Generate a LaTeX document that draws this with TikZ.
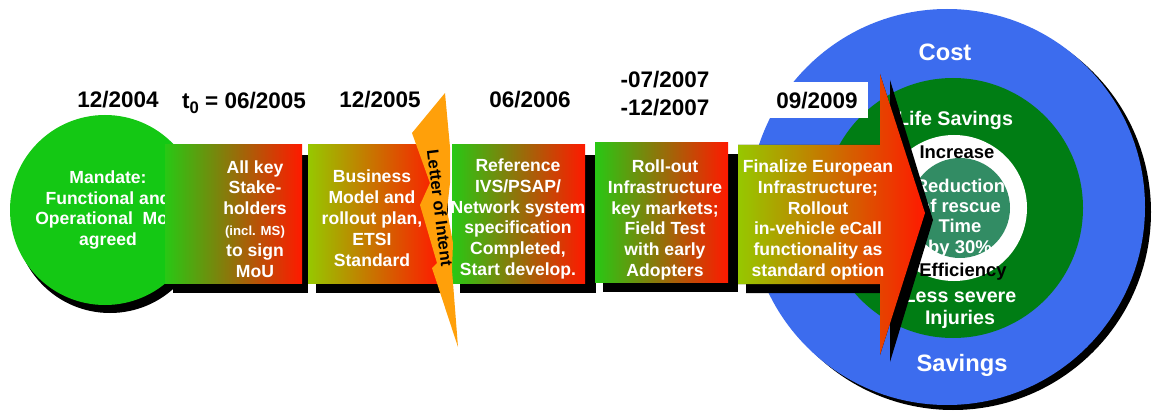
\documentclass[tikz,border=0pt]{standalone}
\usepackage{fontspec}
\setmainfont{Liberation Sans}
\usetikzlibrary{calc}

\definecolor{ringblue}{RGB}{60,108,238}
\definecolor{ringgreen}{RGB}{0,125,20}
\definecolor{coreteal}{RGB}{50,140,100}
\definecolor{mandgreen}{RGB}{20,200,20}
\definecolor{boxgreen}{RGB}{40,200,20}
\definecolor{boxlime}{RGB}{150,200,0}
\definecolor{boxred}{RGB}{255,25,0}
\definecolor{loiorange}{RGB}{255,160,10}

\tikzset{
	phase/.style={left color=boxgreen, right color=boxred},
	limephase/.style={left color=boxlime, right color=boxred},
	phasetext/.style={text=white, font=\bfseries\fontsize{10}{11.9}\selectfont, align=center},
	datelabel/.style={font=\bfseries\fontsize{12.8}{16}\selectfont, align=center},
	ringtext/.style={font=\bfseries\fontsize{10.5}{11.5}\selectfont, align=center},
}

\begin{document}
\begin{tikzpicture}[x=0.02cm, y=-0.02cm]
				\useasboundingbox (0,0) rectangle (1154,412);
				
				% target rings
				\coordinate (R) at (947,207);
				\fill[black] (953,212) circle[radius=198];
				\fill[ringblue] (R) circle[radius=198];
				\fill[ringgreen] (953,208) circle[radius=130];
				\fill[white] (954,208) circle[radius=73];
				\fill[coreteal] (960,208) circle[radius=50];
				\node[ringtext, text=white, font=\bfseries\fontsize{13.5}{15}\selectfont] (cost) at (945,52) {Cost};
				\node[ringtext, text=white, font=\bfseries\fontsize{13.5}{15}\selectfont] (savings) at (962,365) {Savings};
				\node[ringtext, text=white, font=\bfseries\fontsize{11.2}{12}\selectfont] (life) at (955,120) {Life Savings};
				\node[ringtext] (increase) at (957,152) {Increase};
				\node[ringtext, text=white] (reduction) at (960,218) {Reduction\\of rescue\\Time\\by 30\%};
				\node[ringtext] (efficiency) at (963,272) {Efficiency};
				\node[ringtext, text=white, font=\bfseries\fontsize{11.2}{12.5}\selectfont] (severe) at (960,309) {Less severe\\Injuries};
				
				% mandate circle
				\fill[black] (110,218) circle[radius=95];
				\fill[mandgreen] (105,210) circle[radius=95];
				\node[phasetext] (mandate) at (108,210) {Mandate:\\Functional and\\Operational\ \ MoU\\agreed};
				
				% phase boxes with shadows
				\fill[black] (173,155) rectangle (308,293);
				\fill[phase] (165,145) rectangle (302,283);
				\node[phasetext] (stakeholders) at (255,219) {All key\\Stake-\\holders\\{\fontsize{7.5}{9}\selectfont (incl. MS)}\\to sign\\MoU};
				
				\fill[black] (316,155) rectangle (448,293);
				\fill[limephase] (308,145) rectangle (440,283);
				\node[phasetext] (business) at (372,218) {Business\\Model and\\rollout plan,\\ETSI\\Standard};
				
				\fill[black] (460,155) rectangle (596,293);
				\fill[phase] (452,145) rectangle (585,283);
				\node[phasetext] (reference) at (518,219) {Reference\\IVS/PSAP/\\Network system\\specification\\Completed,\\Start develop.};
				
				\fill[black] (603,154) rectangle (738,292);
				\fill[phase] (595,143) rectangle (728,282);
				\node[phasetext] (rollout) at (665,220) {Roll-out\\Infrastructure\\key markets;\\Field Test\\with early\\Adopters};
				
				% final arrow
				\fill[white] (770,82) rectangle (868,118);
				\fill[black] (746,155) -- (890,155) -- (890,80) -- (933,220) -- (890,362) -- (890,293) -- (746,293) -- cycle;
				\fill[limephase] (738,145) -- (880,145) -- (880,74) -- (925,213) -- (880,355) -- (880,284) -- (738,284) -- cycle;
				\node[phasetext] (finalize) at (818,220) {Finalize European\\Infrastructure;\\Rollout\\in-vehicle eCall\\functionality as\\standard option};
				
				% letter of intent
				\fill[loiorange] (445,93) -- (450,147) -- (450,183) -- (447,210) -- (453,243) -- (452,270) -- (458,347)
					-- (432,268) -- (437,263) -- (420,205) -- (430,183) -- (412,133) -- cycle;
				\node[font=\bfseries\fontsize{9.5}{10}\selectfont, rotate=-83] (letter) at (440,208) {Letter of Intent};
				
				% dates
				\node[datelabel] (d2004) at (118,100) {12/2004};
				\node[datelabel] (d2005) at (244,103) {t\raisebox{-0.45ex}{\fontsize{9.5}{10}\selectfont 0} = 06/2005};
				\node[datelabel] (d2005b) at (380,100) {12/2005};
				\node[datelabel] (d2006) at (530,100) {06/2006};
				\node[datelabel] (d2007) at (665,94) {-07/2007\\-12/2007};
				\node[datelabel] (d2009) at (817,101) {09/2009};
				\end{tikzpicture}
\end{document}
